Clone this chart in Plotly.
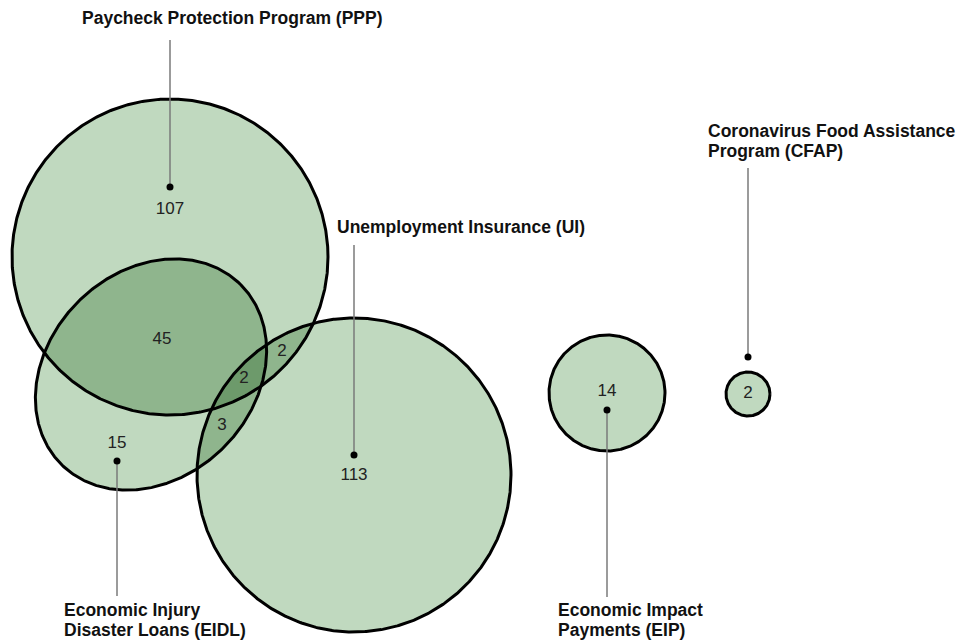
import numpy as np
import plotly.graph_objects as go

# ---- data -------------------------------------------------------------
PROGRAMS = ["PPP", "EIDL", "UI", "EIP", "CFAP"]
PROGRAM_LABELS = [
    "Paycheck Protection Program (PPP)",
    "Economic Injury<br>Disaster Loans (EIDL)",
    "Unemployment Insurance (UI)",
    "Economic Impact<br>Payments (EIP)",
    "Coronavirus Food Assistance<br>Program (CFAP)",
]
ONLY_COUNTS = [107, 15, 113, 14, 2]

OVERLAPS = [("PPP", "EIDL"), ("PPP", "UI"), ("EIDL", "UI"), ("PPP", "EIDL", "UI")]
OVERLAP_COUNTS = [45, 2, 3, 2]

# ---- layout (pixel space, y grows downwards) ---------------------------
W, H = 967, 642
PAD = 8  # browser body margin
LIGHT = "#c0d9bf"
MID = "#8fb58d"
DARK = "#6d9a6b"
LEADER = "#7a7a7a"
FONT = "Liberation Sans, Arial, sans-serif"

# shape geometry: center x, center y, semi-axis a, semi-axis b, rotation (deg, ccw on screen)
GEOM = {
    "PPP": (170, 257, 158, 158, 0),
    "EIDL": (151, 374.5, 127, 103, 45),
    "UI": (354, 475, 157, 157, 0),
    "EIP": (607, 393, 58, 58, 0),
    "CFAP": (748, 394, 22, 22, 0),
}
# count text position, leader dot, leader end, label anchor (first line)
COUNT_POS = {"PPP": (170, 210), "EIDL": (117, 444), "UI": (354, 476),
             "EIP": (607, 392), "CFAP": (748, 394)}
DOT_POS = {"PPP": (170, 187), "EIDL": (117, 461), "UI": (354, 455),
           "EIP": (607, 410), "CFAP": (748, 357)}
LINE_END = {"PPP": 40, "EIDL": 596, "UI": 245, "EIP": 597, "CFAP": 168}
LABEL_POS = {"PPP": (80, 18), "EIDL": (62, 610), "UI": (335, 227),
             "EIP": (556, 610), "CFAP": (706, 131)}
LINE_GAP = 20
OVERLAP_POS = [(162, 340), (282, 352), (222, 426), (244, 379)]


def boundary(name, n=720):
    cx, cy, a, b, rot = GEOM[name]
    t = np.linspace(0, 2 * np.pi, n, endpoint=False)
    r = np.radians(rot)
    ux, uy = np.cos(r), -np.sin(r)
    vx, vy = np.sin(r), np.cos(r)
    x = cx + a * np.cos(t) * ux + b * np.sin(t) * vx
    y = cy + a * np.cos(t) * uy + b * np.sin(t) * vy
    return x, y


def inside(name, x, y):
    cx, cy, a, b, rot = GEOM[name]
    r = np.radians(rot)
    dx, dy = x - cx, y - cy
    p = dx * np.cos(r) - dy * np.sin(r)
    q = dx * np.sin(r) + dy * np.cos(r)
    return (p / a) ** 2 + (q / b) ** 2 <= 1.0


def intersection(names):
    # all shapes are convex, so the overlap is convex too: gather boundary
    # points lying inside the others and sort them by angle
    xs, ys = [], []
    for n in names:
        x, y = boundary(n, 2000)
        keep = np.ones_like(x, dtype=bool)
        for m in names:
            if m != n:
                keep &= inside(m, x, y)
        xs.append(x[keep])
        ys.append(y[keep])
    x = np.concatenate(xs)
    y = np.concatenate(ys)
    ang = np.arctan2(y - y.mean(), x - x.mean())
    o = np.argsort(ang)
    return np.append(x[o], x[o][0]), np.append(y[o], y[o][0])


fig = go.Figure()

# base fills
for n in PROGRAMS:
    x, y = boundary(n)
    fig.add_trace(go.Scatter(x=np.append(x, x[0]), y=np.append(y, y[0]), fill="toself",
                             fillcolor=LIGHT, line=dict(width=0), mode="lines", hoverinfo="skip"))

# overlap fills
for sets in OVERLAPS:
    x, y = intersection(sets)
    fig.add_trace(go.Scatter(x=x, y=y, fill="toself", fillcolor=DARK if len(sets) == 3 else MID,
                             line=dict(width=0), mode="lines", hoverinfo="skip"))

# outlines
for n in PROGRAMS:
    x, y = boundary(n)
    fig.add_trace(go.Scatter(x=np.append(x, x[0]), y=np.append(y, y[0]), mode="lines",
                             line=dict(color="black", width=3), hoverinfo="skip"))

# leader lines and dots
for n in PROGRAMS:
    dx, dy = DOT_POS[n]
    fig.add_trace(go.Scatter(x=[dx, dx], y=[dy, LINE_END[n]], mode="lines",
                             line=dict(color=LEADER, width=1.5), hoverinfo="skip"))
fig.add_trace(go.Scatter(x=[DOT_POS[n][0] for n in PROGRAMS], y=[DOT_POS[n][1] for n in PROGRAMS],
                         mode="markers", marker=dict(color="black", size=7), hoverinfo="skip"))

# counts
fig.add_trace(go.Scatter(
    x=[COUNT_POS[n][0] for n in PROGRAMS] + [p[0] for p in OVERLAP_POS],
    y=[COUNT_POS[n][1] for n in PROGRAMS] + [p[1] for p in OVERLAP_POS],
    text=[str(c) for c in ONLY_COUNTS + OVERLAP_COUNTS], mode="text",
    textfont=dict(family=FONT, size=17, color="#222"), hoverinfo="skip"))

# program labels, one annotation per line for a tight line gap
for n, label in zip(PROGRAMS, PROGRAM_LABELS):
    lx, ly = LABEL_POS[n]
    for i, part in enumerate(label.split("<br>")):
        fig.add_annotation(x=lx, y=ly + i * LINE_GAP, text=f"<b>{part}</b>", showarrow=False,
                           xanchor="left", yanchor="middle", align="left",
                           font=dict(family=FONT, size=17.5, color="#111"))

fig.update_layout(
    width=W - PAD, height=H - PAD, showlegend=False,
    margin=dict(l=0, r=0, t=0, b=0),
    paper_bgcolor="white", plot_bgcolor="white",
    xaxis=dict(range=[PAD, W], visible=False, fixedrange=True),
    yaxis=dict(range=[H, PAD], visible=False, fixedrange=True),
)

fig.write_html("out.html", config={"displayModeBar": False})
